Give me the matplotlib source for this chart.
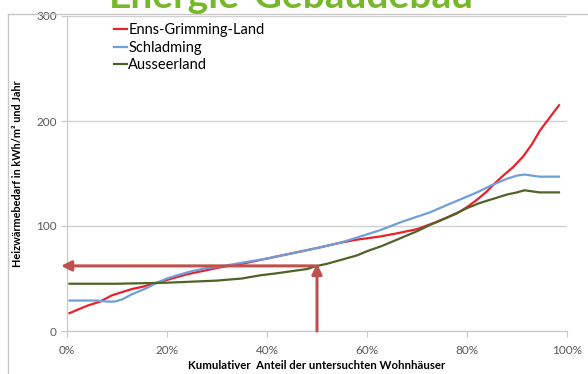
import numpy as np
import matplotlib
matplotlib.use("Agg")
import matplotlib.pyplot as plt

matplotlib.rcParams['font.family'] = ["Lato", "DejaVu Sans"]

# values (x = cumulative share in %, y = kWh/m2 per year)
enns_x = [0.5, 2, 4, 6.6, 9, 11, 13, 15, 18, 21, 24, 27, 31, 35, 40, 45, 50, 54.6, 58, 62.6,
          66, 70, 74, 78, 80, 82, 84, 85.2, 87, 89.2, 91.2, 93, 94.6, 96.5, 98.4]
enns_y = [17, 20, 24, 28, 34, 37, 40, 42, 46, 50, 54, 57, 61, 64, 69, 74, 79, 84, 87, 90,
          93, 97, 104, 112, 118, 125, 133, 139, 147, 156, 166, 178, 191, 203, 215]

schl_x = [0.5, 3, 6, 8, 9.5, 11, 13, 16, 18, 20, 22, 25, 28, 30, 35, 40, 45, 50, 54.6, 58,
          62.6, 67, 72.6, 76, 79, 82, 85, 88, 90, 91.5, 93, 94.5, 96, 98.4]
schl_y = [29, 29, 29, 28, 28, 30, 35, 41, 46, 50, 53, 57, 60, 61, 65, 69, 74, 79, 84, 89,
          96, 104, 113, 120, 126, 132, 139, 145, 148, 149, 148, 147, 147, 147]

auss_x = [0.5, 10, 20, 25, 30, 35, 38.6, 42, 45, 48, 50, 52, 55, 58, 60, 63, 66, 70, 72.6,
          76, 80, 82.6, 86, 88, 90, 91.5, 93, 94.5, 96, 98.4]
auss_y = [45, 45, 46, 47, 48, 50, 53, 55, 57, 59, 62, 64, 68, 72, 76, 81, 87, 95, 101,
          108, 117, 122, 127, 130, 132, 134, 133, 132, 132, 132]

arrow_x = 50
arrow_y = 62

series_names = ["Enns-Grimming-Land", "Schladming", "Ausseerland"]
series_colors = ["#e8212b", "#6f9fd8", "#4f6228"]

fig = plt.figure(figsize=(5.88, 3.74), dpi=100)
ax = fig.add_axes([67 / 588, 43 / 374, 500 / 588, 315 / 374])

for xs, ys, name, col in zip([enns_x, schl_x, auss_x], [enns_y, schl_y, auss_y],
                             series_names, series_colors):
    ax.plot(np.array(xs) / 100, ys, color=col, lw=1.6, label=name, zorder=3,
            solid_joinstyle="round")

# arrows
ax.annotate("", xy=(arrow_x / 100, arrow_y + 2), xytext=(arrow_x / 100, 0),
            arrowprops=dict(arrowstyle="-|>", color="#c0504d", lw=2.2,
                            mutation_scale=15, shrinkA=0, shrinkB=0), zorder=4)
ax.annotate("", xy=(-0.012, arrow_y), xytext=(arrow_x / 100, arrow_y),
            arrowprops=dict(arrowstyle="-|>", color="#c0504d", lw=2.2,
                            mutation_scale=15, shrinkA=0, shrinkB=0),
            annotation_clip=False, zorder=4)

ax.set_xlim(0, 1)
ax.set_ylim(0, 300)
ax.set_xticks(np.arange(0, 1.01, 0.2))
ax.set_xticklabels([f"{int(v * 100)}%" for v in np.arange(0, 1.01, 0.2)])
ax.set_yticks([0, 100, 200, 300])
ax.grid(axis="y", color="#d0d0d0", lw=1)
ax.set_axisbelow(True)
for s in ["top", "right"]:
    ax.spines[s].set_visible(False)
for s in ["left", "bottom"]:
    ax.spines[s].set_color("#c8c8c8")
ax.tick_params(colors="#c8c8c8", labelcolor="#595959", labelsize=8.5, length=4)
ax.tick_params(axis="x", pad=6)

ax.set_xlabel("Kumulativer  Anteil der untersuchten Wohnhäuser", fontsize=8.2,
              fontweight="bold", labelpad=3)
ax.set_ylabel("Heizwärmebedarf in kWh/m² und Jahr", fontsize=7.8,
              fontweight="bold", labelpad=9)

ax.legend(loc="upper left", bbox_to_anchor=(0.082, 0.995), frameon=False,
          fontsize=10.5, handlelength=0.9, handletextpad=0.1, labelspacing=0.22,
          borderaxespad=0)

# slide remnants: cropped title and frame
fig.text(0.495, 1 - 8 / 374, "Energie-Gebäudebau", color="#77b82a", fontsize=28,
         fontweight="bold", ha="center", va="baseline")
fig.add_artist(plt.Line2D([8 / 588, 1], [1 - 14 / 374] * 2, color="#c8c8c8", lw=1))
fig.add_artist(plt.Line2D([8 / 588] * 2, [0, 1 - 14 / 374], color="#c8c8c8", lw=1))

fig.savefig("out.png", dpi=100)
